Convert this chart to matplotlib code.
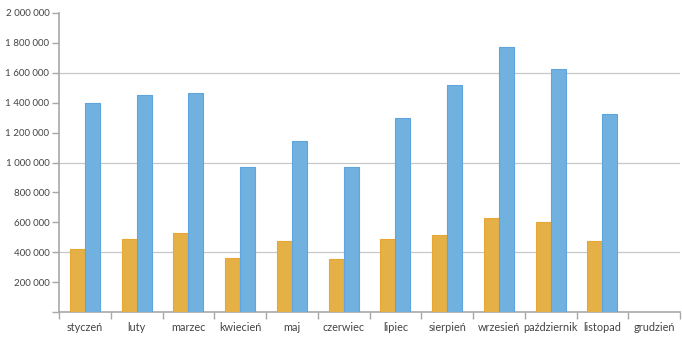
import numpy as np
from matplotlib import pyplot as plt
from matplotlib.ticker import FuncFormatter, MultipleLocator

plt.rcParams["font.family"] = ["Lato", "DejaVu Sans"]

months = ["styczeń", "luty", "marzec", "kwiecień", "maj", "czerwiec",
          "lipiec", "sierpień", "wrzesień", "październik", "listopad", "grudzień"]

orange_vals = [421000, 488000, 528000, 361000, 475000, 354000,
               488000, 515000, 629000, 602000, 475000, np.nan]
blue_vals = [1395000, 1452000, 1465000, 970000, 1144000, 970000,
             1298000, 1518000, 1773000, 1625000, 1324000, np.nan]

grid_vals = [400000, 1000000, 1600000]

W, H = 682, 342
fig = plt.figure(figsize=(W / 100, H / 100), dpi=100)
ax = fig.add_axes([59 / W, 30 / H, 621 / W, 299 / H])

x = np.arange(len(months))
bw = 0.29
ax.bar(x - bw / 2, orange_vals, width=bw, color="#e5b046",
       edgecolor="#e8a634", linewidth=0.8, zorder=3)
ax.bar(x + bw / 2, blue_vals, width=bw, color="#70b1e0",
       edgecolor="#5fa4dc", linewidth=0.8, zorder=3)

for g in grid_vals:
    ax.axhline(g, color="#c8c8c8", linewidth=0.9, zorder=1)

ax.set_xlim(-0.5, len(months) - 0.5)
ax.set_ylim(0, 2000000)

for side in ["top", "right"]:
    ax.spines[side].set_visible(False)
for side in ["left", "bottom"]:
    ax.spines[side].set_color("#a8a8a8")
    ax.spines[side].set_linewidth(1.2)

ax.yaxis.set_major_locator(MultipleLocator(200000))
ax.yaxis.set_major_formatter(FuncFormatter(
    lambda v, p: "" if v == 0 else f"{int(v):,}".replace(",", " ")))

ax.set_xticks(x)
ax.set_xticklabels(months)
ax.set_xticks(np.arange(-0.5, len(months)), minor=True)
ax.tick_params(axis="x", which="major", length=0, pad=7,
               labelsize=7.8, labelcolor="#444444")
ax.tick_params(axis="x", which="minor", length=5, width=1, color="#a8a8a8")
ax.tick_params(axis="y", length=5, width=1, color="#a8a8a8", pad=2,
               labelsize=7, labelcolor="#444444")

fig.savefig("out.png", dpi=100)
